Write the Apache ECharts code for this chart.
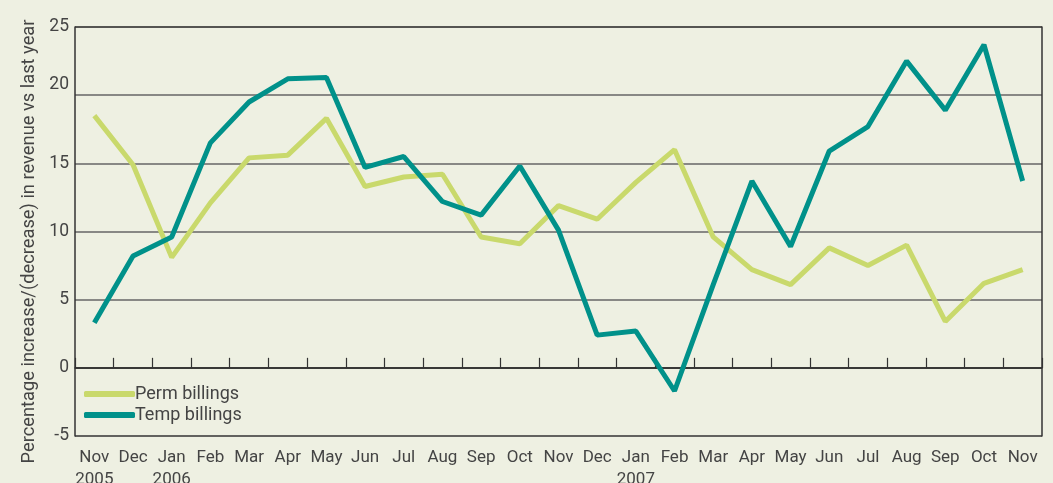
<!DOCTYPE html>
<html>
<head>
<meta charset="utf-8">
<script src="https://cdn.jsdelivr.net/npm/echarts@6/dist/echarts.min.js"></script>
<style>
  html, body { margin: 0; padding: 0; background: #eef0e2; }
  #chart { width: 1053px; height: 483px; }
</style>
</head>
<body>
<div id="chart"></div>
<script>
// Monthly categories, Nov 2005 – Nov 2007
const months = ['Nov\n2005', 'Dec', 'Jan\n2006', 'Feb', 'Mar', 'Apr', 'May', 'Jun', 'Jul', 'Aug', 'Sep', 'Oct', 'Nov',
                'Dec', 'Jan\n2007', 'Feb', 'Mar', 'Apr', 'May', 'Jun', 'Jul', 'Aug', 'Sep', 'Oct', 'Nov'];

// Year-on-year change in revenue (%)
const permBillings = [18.5, 14.9, 8.1, 12.1, 15.4, 15.6, 18.3, 13.3, 14.0, 14.2, 9.6, 9.1, 11.9,
                      10.9, 13.6, 16.0, 9.6, 7.2, 6.1, 8.8, 7.5, 9.0, 3.4, 6.2, 7.2];
const tempBillings = [3.3, 8.2, 9.6, 16.5, 19.5, 21.2, 21.3, 14.7, 15.5, 12.2, 11.2, 14.8, 10.1,
                      2.4, 2.7, -1.7, 6.1, 13.7, 8.9, 15.9, 17.7, 22.5, 18.9, 23.7, 13.7];

// Value axis range
const yMin = -5, yMax = 25, yStep = 5;

const textFont = 'Roboto, "DejaVu Sans", sans-serif';
const permColor = '#c9d96c';
const tempColor = '#00918a';

const chart = echarts.init(document.getElementById('chart'));
chart.setOption({
  backgroundColor: '#eef0e2',
  animation: false,
  grid: { left: 75, right: 11, top: 27, bottom: 47, containLabel: false, outerBoundsMode: 'none' },
  legend: {
    orient: 'vertical',
    left: 79,
    top: 380,
    itemWidth: 51,
    itemHeight: 6,
    itemGap: 3,
    icon: 'roundRect',
    textStyle: { fontFamily: textFont, fontSize: 18, color: '#444', padding: [0, 0, 0, -5] },
    data: ['Perm billings', 'Temp billings']
  },
  xAxis: {
    type: 'category',
    data: months,
    boundaryGap: true,
    axisLine: { lineStyle: { color: '#333', width: 1.5 } },
    axisTick: { show: true, inside: true, length: 10, lineStyle: { color: '#333', width: 1.2 } },
    axisLabel: {
      fontFamily: textFont, fontSize: 17, color: '#444', margin: 11, lineHeight: 22,
      interval: 0
    },
    splitLine: { show: false }
  },
  yAxis: [{
    type: 'value',
    min: yMin, max: yMax, interval: yStep,
    name: 'Percentage increase/(decrease) in revenue vs last year',
    nameLocation: 'middle',
    nameRotate: 90,
    nameGap: 29,
    nameTextStyle: { fontFamily: textFont, fontSize: 18.3, color: '#444', padding: [0, 20, 0, 0] },
    axisLine: { show: true, lineStyle: { color: '#333', width: 1.5 } },
    axisTick: { show: false },
    axisLabel: {
      fontFamily: textFont, fontSize: 17.5, color: '#444', margin: 6,
      formatter: v => v === 20 ? '{up|20}' : String(v),
      rich: { up: { fontFamily: textFont, fontSize: 17.5, color: '#444', padding: [0, 0, 22, 0] } }
    },
    splitLine: {
      show: true,
      lineStyle: { color: ['#333', '#111', '#666', '#666', '#666', '#666', '#222'], width: 1.5 }
    }
  }, {
    type: 'value',
    min: yMin, max: yMax, interval: yStep,
    position: 'right',
    axisLine: { show: true, lineStyle: { color: '#333', width: 1.5 } },
    axisTick: { show: false },
    axisLabel: { show: false },
    splitLine: { show: false }
  }],
  series: [{
    name: 'Perm billings',
    type: 'line',
    data: permBillings,
    symbol: 'none',
    color: permColor,
    lineStyle: { width: 5, color: permColor },
    z: 3
  }, {
    name: 'Temp billings',
    type: 'line',
    data: tempBillings,
    symbol: 'none',
    color: tempColor,
    lineStyle: { width: 5, color: tempColor },
    z: 4
  }]
});
</script>
</body>
</html>
